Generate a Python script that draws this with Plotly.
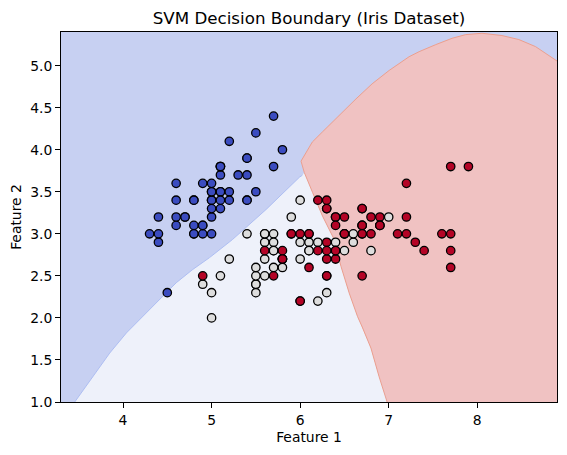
import plotly.graph_objects as go

# Iris dataset: sepal length (feature 1), sepal width (feature 2), class
sepal_length = [
    5.1, 4.9, 4.7, 4.6, 5.0, 5.4, 4.6, 5.0, 4.4, 4.9, 5.4, 4.8, 4.8, 4.3, 5.8, 5.7, 5.4, 5.1, 5.7, 5.1,
    5.4, 5.1, 4.6, 5.1, 4.8, 5.0, 5.0, 5.2, 5.2, 4.7, 4.8, 5.4, 5.2, 5.5, 4.9, 5.0, 5.5, 4.9, 4.4, 5.1,
    5.0, 4.5, 4.4, 5.0, 5.1, 4.8, 5.1, 4.6, 5.3, 5.0,
    7.0, 6.4, 6.9, 5.5, 6.5, 5.7, 6.3, 4.9, 6.6, 5.2, 5.0, 5.9, 6.0, 6.1, 5.6, 6.7, 5.6, 5.8, 6.2, 5.6,
    5.9, 6.1, 6.3, 6.1, 6.4, 6.6, 6.8, 6.7, 6.0, 5.7, 5.5, 5.5, 5.8, 6.0, 5.4, 6.0, 6.7, 6.3, 5.6, 5.5,
    5.5, 6.1, 5.8, 5.0, 5.6, 5.7, 5.7, 6.2, 5.1, 5.7,
    6.3, 5.8, 7.1, 6.3, 6.5, 7.6, 4.9, 7.3, 6.7, 7.2, 6.5, 6.4, 6.8, 5.7, 5.8, 6.4, 6.5, 7.7, 7.7, 6.0,
    6.9, 5.6, 7.7, 6.3, 6.7, 7.2, 6.2, 6.1, 6.4, 7.2, 7.4, 7.9, 6.4, 6.3, 6.1, 7.7, 6.3, 6.4, 6.0, 6.9,
    6.7, 6.9, 5.8, 6.8, 6.7, 6.7, 6.3, 6.5, 6.2, 5.9,
]
sepal_width = [
    3.5, 3.0, 3.2, 3.1, 3.6, 3.9, 3.4, 3.4, 2.9, 3.1, 3.7, 3.4, 3.0, 3.0, 4.0, 4.4, 3.9, 3.5, 3.8, 3.8,
    3.4, 3.7, 3.6, 3.3, 3.4, 3.0, 3.4, 3.5, 3.4, 3.2, 3.1, 3.4, 4.1, 4.2, 3.1, 3.2, 3.5, 3.6, 3.0, 3.4,
    3.5, 2.3, 3.2, 3.5, 3.8, 3.0, 3.8, 3.2, 3.7, 3.3,
    3.2, 3.2, 3.1, 2.3, 2.8, 2.8, 3.3, 2.4, 2.9, 2.7, 2.0, 3.0, 2.2, 2.9, 2.9, 3.1, 3.0, 2.7, 2.2, 2.5,
    3.2, 2.8, 2.5, 2.8, 2.9, 3.0, 2.8, 3.0, 2.9, 2.6, 2.4, 2.4, 2.7, 2.7, 3.0, 3.4, 3.1, 2.3, 3.0, 2.5,
    2.6, 3.0, 2.6, 2.3, 2.7, 3.0, 2.9, 2.9, 2.5, 2.8,
    3.3, 2.7, 3.0, 2.9, 3.0, 3.0, 2.5, 2.9, 2.5, 3.6, 3.2, 2.7, 3.0, 2.5, 2.8, 3.2, 3.0, 3.8, 2.6, 2.2,
    3.2, 2.8, 2.8, 2.7, 3.3, 3.2, 2.8, 3.0, 2.8, 3.0, 2.8, 3.8, 2.8, 2.8, 2.6, 3.0, 3.4, 3.1, 3.0, 3.1,
    3.1, 3.1, 2.7, 3.2, 3.3, 3.0, 2.5, 3.0, 3.4, 3.0,
]
species = [0] * 50 + [1] * 50 + [2] * 50

# Decision boundaries
blue_light_x = [3.455, 3.662, 3.850, 4.038, 4.222, 4.410, 4.601, 4.785, 4.977, 5.236, 5.616, 5.992, 6.025]
blue_light_y = [1.000, 1.299, 1.582, 1.821, 2.012, 2.215, 2.418, 2.574, 2.717, 2.932, 3.290, 3.673, 3.697]

red_light_x = [6.010, 6.047, 6.141, 6.253, 6.385, 6.461, 6.554, 6.648, 6.701, 6.799, 6.892, 6.968, 6.982]
red_light_y = [3.864, 3.729, 3.490, 3.210, 2.932, 2.613, 2.295, 2.016, 1.892, 1.642, 1.299, 1.060, 1.000]

red_blue_x = [6.010, 6.047, 6.137, 6.250, 6.363, 6.475, 6.630, 6.813, 7.005, 7.230, 7.343, 7.531,
              7.715, 7.869, 8.053, 8.278, 8.470, 8.658, 8.883, 8.900]
red_blue_y = [3.864, 3.927, 4.091, 4.210, 4.330, 4.449, 4.604, 4.784, 4.943, 5.106, 5.166, 5.250,
              5.325, 5.369, 5.385, 5.358, 5.310, 5.226, 5.070, 5.055]

x_range = [3.3, 8.9]
y_range = [1.0, 5.4]
x_ticks = [4, 5, 6, 7, 8]
y_ticks = [1.0, 1.5, 2.0, 2.5, 3.0, 3.5, 4.0, 4.5, 5.0]

region_colors = ["#c7d0f2", "#eef1fa", "#f0c2c2"]
point_colors = ["#3b4cc0", "#dddddd", "#b40426"]

fig = go.Figure()

# light (class 1) region
light_poly_x = blue_light_x + red_light_x[1:]
light_poly_y = blue_light_y + red_light_y[1:]
fig.add_trace(go.Scatter(x=light_poly_x, y=light_poly_y, fill="toself", mode="lines",
                         line=dict(width=0), fillcolor=region_colors[1], hoverinfo="skip",
                         showlegend=False))

# red (class 2) region
red_poly_x = red_blue_x + [x_range[1], red_light_x[-1]] + red_light_x[::-1]
red_poly_y = red_blue_y + [y_range[0], red_light_y[-1]] + red_light_y[::-1]
fig.add_trace(go.Scatter(x=red_poly_x, y=red_poly_y, fill="toself", mode="lines",
                         line=dict(width=0), fillcolor=region_colors[2], hoverinfo="skip",
                         showlegend=False))

# boundary edge lines
fig.add_trace(go.Scatter(x=blue_light_x, y=blue_light_y, mode="lines",
                         line=dict(color="#aebef2", width=1), hoverinfo="skip", showlegend=False))
fig.add_trace(go.Scatter(x=red_blue_x, y=red_blue_y, mode="lines",
                         line=dict(color="#ec9f8e", width=1), hoverinfo="skip", showlegend=False))
fig.add_trace(go.Scatter(x=red_light_x, y=red_light_y, mode="lines",
                         line=dict(color="#ec9f8e", width=1), hoverinfo="skip", showlegend=False))

# data points
fig.add_trace(go.Scatter(
    x=sepal_length, y=sepal_width, mode="markers",
    marker=dict(size=8.4, color=[point_colors[s] for s in species],
                line=dict(color="black", width=1.3)),
    showlegend=False,
))

axis_common = dict(showgrid=False, zeroline=False, showline=True, mirror=True,
                   linecolor="black", linewidth=1, ticks="outside", ticklen=5,
                   tickcolor="black", tickwidth=1, automargin=False,
                   tickfont=dict(family="DejaVu Sans", size=13.9, color="black"))

# the page body has an 8px margin, so the figure is sized and offset to compensate
fig.update_layout(
    width=559, height=447,
    margin=dict(l=53, r=10, t=24, b=53),
    paper_bgcolor="white",
    plot_bgcolor=region_colors[0],
    title=dict(text="SVM Decision Boundary (Iris Dataset)", x=0.5, xref="paper", xanchor="center",
               y=0.977, yref="container", yanchor="middle",
               font=dict(family="DejaVu Sans", size=16.7, color="black")),
    xaxis=dict(range=x_range, tickvals=x_ticks, ticktext=[str(t) for t in x_ticks],
               title=dict(text="Feature 1", standoff=5,
                          font=dict(family="DejaVu Sans", size=13.9, color="black")),
               **axis_common),
    yaxis=dict(range=y_range, tickvals=y_ticks, ticktext=[f"{t:.1f}" for t in y_ticks],
               title=dict(text="Feature 2", standoff=7,
                          font=dict(family="DejaVu Sans", size=13.9, color="black")),
               **axis_common),
)

fig.write_html("out.html")
